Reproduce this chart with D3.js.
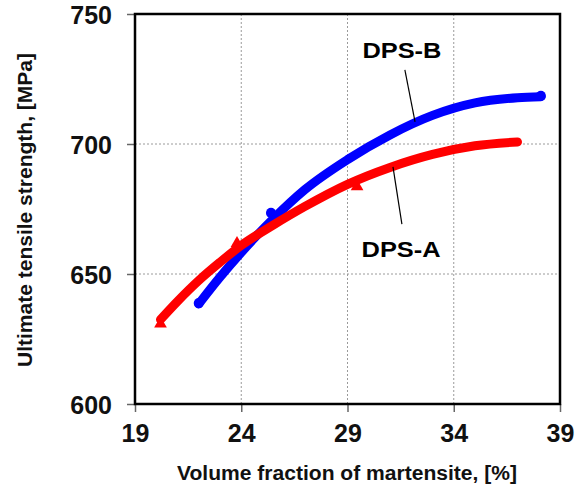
<!DOCTYPE html>
<html>
<head>
<meta charset="utf-8">
<script src="https://cdn.jsdelivr.net/npm/d3@7"></script>
<style>
  body { margin: 0; background: #fff; }
  svg { display: block; font-family: 'Liberation Sans', Arial, sans-serif; font-weight: bold; }
</style>
</head>
<body>
<svg id="chart" width="582" height="489"></svg>
<script>
// tick values
const xTicks = [19, 24, 29, 34, 39]
const yTicks = [600, 650, 700, 750]

// DPS-A trend (red)
const dpsAx = [20.2, 21.0, 22.0, 23.0, 24.0, 25.5, 27.0, 29.0, 31.0, 33.0, 35.0, 37.0]
const dpsAy = [632.5, 639.5, 647.5, 654.5, 661, 668.8, 676, 684.5, 691, 696, 699.3, 700.8]
// DPS-A measured points (triangles)
const dpsAmx = [20.2, 23.8, 29.45]
const dpsAmy = [630.8, 661.8, 683.6]

// DPS-B trend (blue)
const dpsBx = [22.0, 23.0, 24.0, 25.5, 27.0, 29.0, 31.0, 33.0, 35.0, 37.0, 38.1]
const dpsBy = [638.5, 648.8, 658.3, 671.2, 682.5, 694, 703.5, 711, 715.8, 717.8, 718.2]
// DPS-B measured points (circles)
const dpsBmx = [22.0, 25.4, 38.1]
const dpsBmy = [638.8, 673.5, 718.5]

const chart = {}
chart.margin = {top: 14, right: 22, bottom: 85, left: 135}
chart.width = 582 - chart.margin.left - chart.margin.right
chart.height = 489 - chart.margin.top - chart.margin.bottom

const svg = d3.select('#chart')
const g = svg.append('g')
    .attr('transform', `translate(${chart.margin.left},${chart.margin.top})`)

const x = d3.scaleLinear().domain([19, 39]).range([0, chart.width])
const y = d3.scaleLinear().domain([600, 750]).range([chart.height, 0])

// dotted grid
g.append('g')
    .selectAll('line.vgrid')
    .data(xTicks.slice(1, -1))
    .join('line')
    .attr('x1', d => x(d)).attr('x2', d => x(d))
    .attr('y1', 0).attr('y2', chart.height)
    .attr('stroke', '#9a9a9a').attr('stroke-width', 1).attr('stroke-dasharray', '2,2')
g.append('g')
    .selectAll('line.hgrid')
    .data(yTicks.slice(1, -1))
    .join('line')
    .attr('x1', 0).attr('x2', chart.width)
    .attr('y1', d => y(d)).attr('y2', d => y(d))
    .attr('stroke', '#9a9a9a').attr('stroke-width', 1).attr('stroke-dasharray', '2,2')

// axes
const xAxis = g.append('g')
    .attr('transform', `translate(0,${chart.height})`)
    .call(d3.axisBottom(x).tickValues(xTicks).tickSize(8).tickSizeOuter(0))
const yAxis = g.append('g')
    .call(d3.axisLeft(y).tickValues(yTicks).tickSize(8).tickSizeOuter(0))

for (const ax of [xAxis, yAxis]) {
    ax.select('.domain').remove()
    ax.selectAll('.tick line').attr('stroke', '#666').attr('stroke-width', 1.5)
    ax.selectAll('.tick text')
        .attr('font-family', "'Liberation Sans', Arial, sans-serif")
        .attr('font-weight', 'bold')
        .attr('font-size', 25)
        .attr('fill', '#111')
}
xAxis.selectAll('.tick text').attr('y', 38).attr('dy', 0)
yAxis.selectAll('.tick text').attr('x', -23).attr('dy', '0.36em')

// frame
g.append('rect')
    .attr('width', chart.width).attr('height', chart.height)
    .attr('fill', 'none').attr('stroke', '#000').attr('stroke-width', 2.5)

// curves
const line = d3.line()
    .x(d => x(d[0])).y(d => y(d[1]))
    .curve(d3.curveMonotoneX)

const series = [
    {name: 'DPS-B', color: '#0000ff', xs: dpsBx, ys: dpsBy, mx: dpsBmx, my: dpsBmy, symbol: d3.symbolCircle},
    {name: 'DPS-A', color: '#ff0000', xs: dpsAx, ys: dpsAy, mx: dpsAmx, my: dpsAmy, symbol: d3.symbolTriangle}
]

for (const s of series) {
    g.append('path')
        .datum(d3.zip(s.xs, s.ys))
        .attr('d', line)
        .attr('fill', 'none')
        .attr('stroke', s.color)
        .attr('stroke-width', 9)
        .attr('stroke-linecap', 'round')
        .attr('stroke-linejoin', 'round')
    g.append('g')
        .selectAll('path')
        .data(d3.zip(s.mx, s.my))
        .join('path')
        .attr('transform', d => `translate(${x(d[0])},${y(d[1])})`)
        .attr('d', d3.symbol().type(s.symbol).size(s.symbol === d3.symbolCircle ? 80 : 70))
        .attr('fill', s.color)
}

// annotations: label + leader line, in data units
const notes = [
    {text: 'DPS-B', lx: 31.56, ly: 733.1, from: [31.7, 728.5], to: [32.18, 708.5]},
    {text: 'DPS-A', lx: 31.52, ly: 656.5, from: [31.14, 691.2], to: [31.56, 669.2]}
]
for (const n of notes) {
    g.append('line')
        .attr('x1', x(n.from[0])).attr('y1', y(n.from[1]))
        .attr('x2', x(n.to[0])).attr('y2', y(n.to[1]))
        .attr('stroke', '#000').attr('stroke-width', 1.2)
    g.append('text')
        .attr('x', x(n.lx)).attr('y', y(n.ly))
        .attr('text-anchor', 'middle')
        .attr('font-size', 22)
        .attr('textLength', 79)
        .attr('lengthAdjust', 'spacingAndGlyphs')
        .attr('fill', '#000')
        .text(n.text)
}

// axis titles
svg.append('text')
    .attr('x', 347).attr('y', 480)
    .attr('text-anchor', 'middle')
    .attr('font-size', 20)
    .attr('textLength', 340)
    .attr('lengthAdjust', 'spacingAndGlyphs')
    .attr('fill', '#111')
    .text('Volume fraction of martensite, [%]')

svg.append('text')
    .attr('transform', 'translate(32,210) rotate(-90)')
    .attr('text-anchor', 'middle')
    .attr('font-size', 20)
    .attr('textLength', 314)
    .attr('lengthAdjust', 'spacingAndGlyphs')
    .attr('fill', '#111')
    .text('Ultimate tensile strength, [MPa]')
</script>
</body>
</html>
